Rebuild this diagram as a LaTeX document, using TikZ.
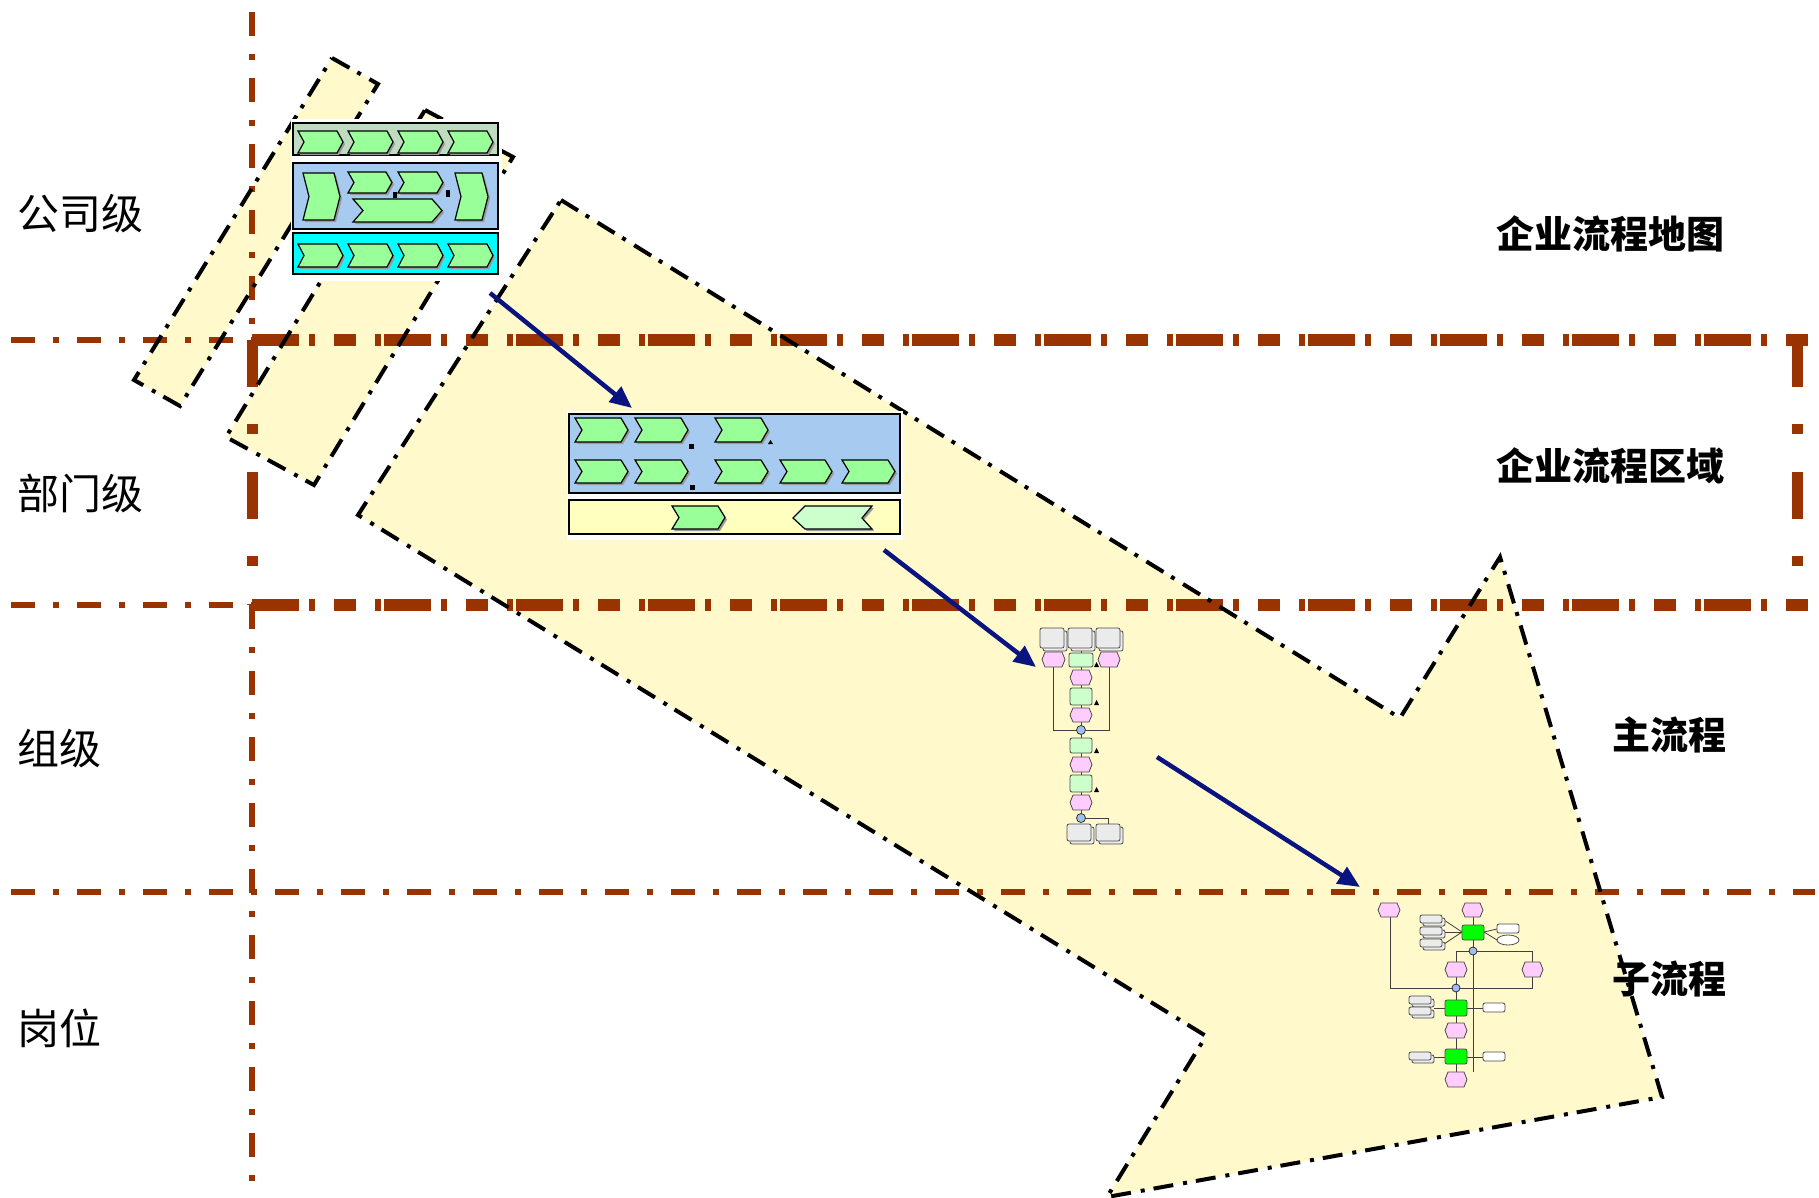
\documentclass[tikz,border=0pt]{standalone}
\usepackage{fontspec}
\newfontfamily\cjk{Noto Sans CJK SC}
\usetikzlibrary{arrows.meta}

\definecolor{rust}{RGB}{153,51,0}
\definecolor{paleyellow}{RGB}{255,249,204}
\definecolor{navyarrow}{RGB}{10,20,128}
\definecolor{chevgreen}{RGB}{153,255,153}
\definecolor{chevpale}{RGB}{204,255,204}
\definecolor{lanegray}{RGB}{192,220,192}
\definecolor{laneblue}{RGB}{166,202,240}
\definecolor{lanecyan}{RGB}{0,255,255}
\definecolor{laneyellow}{RGB}{255,255,192}
\definecolor{evtpink}{RGB}{255,204,255}
\definecolor{fnpale}{RGB}{204,255,204}
\definecolor{fnbright}{RGB}{0,255,0}
\definecolor{jointblue}{RGB}{160,190,240}

\tikzset{
  zonefill/.style={fill=paleyellow},
  zoneedge/.style={draw=black, line width=4pt, dash pattern=on 20pt off 9pt on 4pt off 10pt},
  thinrule/.style={draw=rust, line width=5.5pt, dash pattern=on 24pt off 18pt on 6pt off 18pt},
  boldrule/.style={draw=rust, line width=12pt, dash pattern=on 47pt off 10pt on 6pt off 19pt on 22pt off 19pt on 6pt off 3pt},
  boldside/.style={draw=rust, line width=11pt, dash pattern=on 47pt off 37pt on 10pt off 38pt},
  lane/.style={draw=black, line width=1.6pt},
  chevshade/.style={fill=black!40},
  chevbody/.style={fill=chevgreen, draw=black, line width=1.2pt},
  evt/.style={fill=evtpink, draw=black!70, line width=0.8pt},
  fnbox/.style={draw=black!70, line width=0.8pt, rounded corners=2pt},
  docbox/.style={fill=black!8, draw=black!70, line width=0.8pt, rounded corners=2pt},
  link/.style={draw=black!75, line width=0.8pt},
  joint/.style={fill=jointblue, draw=black!80, line width=0.8pt},
  orgtick/.style={fill=black},
  flowarrow/.style={draw=navyarrow, line width=4.5pt, -{Triangle[length=22pt,width=19pt]}},
  lvl/.style={font=\cjk\fontsize{42}{42}\selectfont, anchor=west, inner sep=0pt},
  tier/.style={font=\cjk\bfseries\fontsize{38}{38}\selectfont, anchor=east, inner sep=0pt},
}

% value-chain chevron: left, top, right, bottom, notch depth
\newcommand\vchev[5]{%
  \fill[chevshade] ({#1+2},{#2+2}) -- ({#3-#5+2},{#2+2}) -- ({#3+2},{(#2+#4)/2+2}) -- ({#3-#5+2},{#4+2}) -- ({#1+2},{#4+2}) -- ({#1+#5+2},{(#2+#4)/2+2}) -- cycle;
  \path[chevbody] (#1,#2) -- ({#3-#5},#2) -- (#3,{(#2+#4)/2}) -- ({#3-#5},#4) -- (#1,#4) -- ({#1+#5},{(#2+#4)/2}) -- cycle;}
% event hexagon: left, top, right, bottom
\newcommand\vevt[4]{%
  \path[evt] ({#1+3},#2) -- ({#3-3},#2) -- (#3,{(#2+#4)/2}) -- ({#3-3},#4) -- ({#1+3},#4) -- (#1,{(#2+#4)/2}) -- cycle;}
% stacked document: left, top, right, bottom
\newcommand\vdoc[4]{%
  \path[docbox] ({#1+3},{#2+3}) rectangle ({#3+3},{#4+3});
  \path[docbox] (#1,#2) rectangle (#3,#4);}
% function box: left, top, right, bottom, fill
\newcommand\vfn[5]{\path[fnbox, fill=#5] (#1,#2) rectangle (#3,#4);}

\begin{document}
\begin{tikzpicture}[x=1pt, y=-1pt]
\useasboundingbox (0,0) rectangle (1819,1197);

% ---------- pale zones (fills) ----------
\path[zonefill] (332,58) -- (378,84) -- (180,406) -- (134,380) -- cycle;
\path[zonefill] (425,110) -- (513,157) -- (314,485) -- (226,437) -- cycle;
\path[zonefill] (561,200) -- (1400,718) -- (1500,557) -- (1662,1097) -- (1107,1197) -- (1206,1036) -- (358,515) -- cycle;

% ---------- level rules ----------
\draw[thinrule] (252,12) -- (252,340);
\draw[thinrule] (252,605) -- (252,1182);
\draw[thinrule] (11,340) -- (252,340);
\draw[thinrule] (11,605) -- (252,605);
\draw[thinrule] (11,892) -- (1815,892);
\draw[boldrule] (252,340) -- (1813,340);
\draw[boldrule] (252,605) -- (1813,605);
\draw[boldside] (252,340) -- (252,605);
\draw[boldside] (1797,340) -- (1797,605);

% ---------- pale zones (outlines) ----------
\draw[zoneedge] (332,58) -- (378,84) -- (180,406) -- (134,380) -- cycle;
\draw[zoneedge] (425,110) -- (513,157) -- (314,485) -- (226,437) -- cycle;
\draw[zoneedge] (561,200) -- (1400,718) -- (1500,557) -- (1662,1097) -- (1107,1197) -- (1206,1036) -- (358,515) -- cycle;

% ---------- enterprise process map ----------
\fill[white] (291,119) rectangle (502,281);
\path[lane, fill=lanegray] (293,123) rectangle (498,155);
\path[lane, fill=laneblue] (293,163) rectangle (498,229);
\path[lane, fill=lanecyan] (293,233) rectangle (498,274);
\vchev{298}{131}{343}{153}{6}
\vchev{348}{131}{393}{153}{6}
\vchev{398}{131}{443}{153}{6}
\vchev{448}{131}{493}{153}{6}
\vchev{303}{173}{340}{220}{6}
\vchev{348}{172}{392}{193}{6}
\vchev{398}{172}{443}{193}{6}
\vchev{353}{199}{442}{222}{10}
\vchev{455}{173}{488}{220}{6}
\fill[orgtick] (393,192) rectangle (397,198);
\fill[orgtick] (446,190) rectangle (450,197);
\vchev{298}{244}{343}{267}{6}
\vchev{348}{244}{393}{267}{6}
\vchev{398}{244}{443}{267}{6}
\vchev{448}{244}{493}{267}{6}
\node[inner sep=0pt, minimum width=205pt, minimum height=151pt] (procmap) at (395.5,198.5) {};

% ---------- enterprise process area ----------
\fill[white] (567,411) rectangle (903,540);
\path[lane, fill=laneblue] (569,414) rectangle (900,493);
\path[lane, fill=laneyellow] (569,500) rectangle (900,534);
\vchev{575}{418}{628}{442}{7}
\vchev{635}{418}{688}{442}{7}
\vchev{715}{418}{768}{442}{7}
\vchev{575}{460}{628}{483}{7}
\vchev{635}{460}{688}{483}{7}
\vchev{715}{460}{768}{483}{7}
\vchev{780}{460}{832}{483}{7}
\vchev{842}{460}{895}{483}{7}
\fill[orgtick] (689,444) rectangle (694,449);
\fill[orgtick] (768,444) -- (773,444) -- (770.5,440) -- cycle;
\fill[orgtick] (690,485) rectangle (695,490);
\vchev{672}{506}{725}{529}{7}
\fill[chevshade] (795,520) -- (807,508) -- (874,508) -- (864,520) -- (874,531) -- (807,531) -- cycle;
\path[chevbody, fill=chevpale] (793,518) -- (805,506) -- (872,506) -- (862,518) -- (872,529) -- (805,529) -- cycle;
\node[inner sep=0pt, minimum width=331pt, minimum height=120pt] (procarea) at (734.5,474) {};

% ---------- main process ----------
\draw[link] (1081,651) -- (1081,820);
\draw[link] (1053,667) -- (1053,730) -- (1109,730) -- (1109,667);
\draw[link] (1081,818) -- (1108,818) -- (1108,824);
\vdoc{1040}{628}{1064}{648}
\vdoc{1068}{628}{1092}{648}
\vdoc{1096}{628}{1120}{648}
\vevt{1042}{652}{1065}{667}
\vfn{1069}{653}{1093}{667}{fnpale}
\vevt{1098}{652}{1120}{667}
\vevt{1070}{670}{1092}{685}
\vfn{1070}{688}{1092}{705}{fnpale}
\vevt{1070}{708}{1092}{722}
\path[joint] (1081,730) circle (4.5pt);
\vfn{1070}{738}{1092}{753}{fnpale}
\vevt{1070}{757}{1092}{772}
\vfn{1070}{775}{1092}{792}{fnpale}
\vevt{1070}{795}{1092}{810}
\path[joint] (1081,818) circle (4.5pt);
\vdoc{1067}{824}{1091}{841}
\vdoc{1096}{824}{1120}{841}
\fill[orgtick] (1094,667) -- (1099,667) -- (1096.5,662) -- cycle;
\fill[orgtick] (1094,705) -- (1099,705) -- (1096.5,700) -- cycle;
\fill[orgtick] (1094,753) -- (1099,753) -- (1096.5,748) -- cycle;
\fill[orgtick] (1094,792) -- (1099,792) -- (1096.5,787) -- cycle;
\node[inner sep=0pt, minimum width=82pt, minimum height=216pt] (mainproc) at (1080,736) {};

% ---------- sub process ----------
\draw[link] (1390,917) -- (1390,988) -- (1532,988) -- (1532,977);
\draw[link] (1473,917) -- (1473,1072);
\draw[link] (1473,951) -- (1456,951) -- (1456,962);
\draw[link] (1473,951) -- (1532,951) -- (1532,962);
\draw[link] (1456,977) -- (1456,1072);
\draw[link] (1444,920) -- (1462,932);
\draw[link] (1444,932) -- (1462,932);
\draw[link] (1444,944) -- (1462,932);
\draw[link] (1484,932) -- (1497,929);
\draw[link] (1484,932) -- (1497,940);
\draw[link] (1434,1008) -- (1445,1008);
\draw[link] (1467,1008) -- (1483,1008);
\draw[link] (1433,1057) -- (1445,1057);
\draw[link] (1467,1057) -- (1483,1057);
\vevt{1378}{903}{1400}{917}
\vevt{1462}{903}{1483}{917}
\vdoc{1420}{915}{1442}{923}
\vdoc{1420}{927}{1442}{935}
\vdoc{1420}{939}{1442}{947}
\vfn{1462}{925}{1484}{940}{fnbright}
\path[docbox, fill=white] (1497,924) rectangle (1519,933);
\path[docbox, fill=white] (1508,940) ellipse (11pt and 5pt);
\path[joint] (1473,951) circle (4pt);
\vevt{1445}{962}{1467}{977}
\vevt{1522}{962}{1543}{977}
\path[joint] (1456,988) circle (4pt);
\vdoc{1409}{996}{1431}{1004}
\vdoc{1409}{1007}{1431}{1015}
\vfn{1445}{1000}{1467}{1016}{fnbright}
\path[docbox, fill=white] (1483,1003) rectangle (1505,1012);
\vevt{1445}{1023}{1467}{1038}
\vdoc{1409}{1052}{1431}{1060}
\vfn{1445}{1049}{1467}{1064}{fnbright}
\path[docbox, fill=white] (1483,1052) rectangle (1505,1061);
\vevt{1445}{1072}{1467}{1087}
\node[inner sep=0pt, minimum width=166pt, minimum height=185pt] (subproc) at (1460,995) {};

% ---------- drill-down arrows ----------
\coordinate (mapOut) at (490,293);
\coordinate (areaIn) at (632,408);
\coordinate (areaOut) at (884,550);
\coordinate (mainIn) at (1036,667);
\coordinate (mainOut) at (1157,757);
\coordinate (subIn) at (1360,887);
\draw[flowarrow] (mapOut) -- (areaIn);
\draw[flowarrow] (areaOut) -- (mainIn);
\draw[flowarrow] (mainOut) -- (subIn);

% ---------- level names ----------
\node[lvl] (lvlCompany) at (17,214) {公司级};
\node[lvl] (lvlDept) at (17,493) {部门级};
\node[lvl] (lvlGroup) at (17,749) {组级};
\node[lvl] (lvlPost) at (17,1028) {岗位};
\node[tier] (tierMap) at (1725,234) {企业流程地图};
\node[tier] (tierArea) at (1725,466) {企业流程区域};
\node[tier] (tierMain) at (1727,735) {主流程};
\node[tier] (tierSub) at (1727,979) {子流程};
\end{tikzpicture}
\end{document}
